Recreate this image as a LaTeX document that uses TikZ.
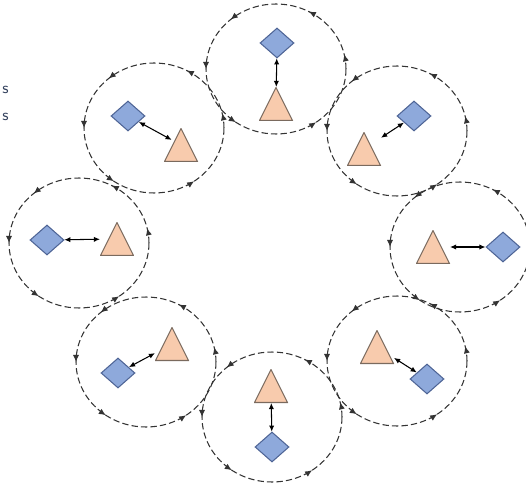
\documentclass[tikz,border=0pt]{standalone}
\usetikzlibrary{shapes.geometric,arrows.meta,decorations.markings}
\definecolor{diafill}{HTML}{8EA9DB}
\definecolor{diadraw}{HTML}{4F6596}
\definecolor{trifill}{HTML}{F8CBAD}
\definecolor{tridraw}{HTML}{7A6A5E}
\definecolor{ringdraw}{HTML}{333333}
\definecolor{textcol}{HTML}{34425E}

\begin{document}
\begin{tikzpicture}[x=0.02cm,y=0.02cm,
  ring/.style={ellipse,draw=ringdraw,line width=0.6pt,dash pattern=on 3.6pt off 1.8pt,
    minimum width=2.8cm,minimum height=2.6cm,inner sep=0,postaction={decorate},
    decoration={markings,
      mark=at position 0.035 with {\arrow{Latex[length=4pt,width=3.5pt]}},
      mark=at position 0.17 with {\arrow{Latex[length=4pt,width=3.5pt]}},
      mark=at position 0.365 with {\arrow{Latex[length=4pt,width=3.5pt]}},
      mark=at position 0.5 with {\arrow{Latex[length=4pt,width=3.5pt]}},
      mark=at position 0.65 with {\arrow{Latex[length=4pt,width=3.5pt]}},
      mark=at position 0.85 with {\arrow{Latex[length=4pt,width=3.5pt]}}}},
  dia/.style={diamond,draw=diadraw,fill=diafill,line width=0.6pt,
    minimum width=0.68cm,minimum height=0.6cm,inner sep=0},
  tri/.style={minimum width=0.68cm,minimum height=0.68cm,inner sep=0,outer sep=0,
    path picture={\draw[draw=tridraw,fill=trifill,line width=0.6pt]
      ([yshift=-0.3pt]path picture bounding box.north)
      -- ([xshift=-0.3pt,yshift=0.3pt]path picture bounding box.south east)
      -- ([xshift=0.3pt,yshift=0.3pt]path picture bounding box.south west) -- cycle;}},
  link/.style={{Latex[length=3.5pt,width=3pt]}-{Latex[length=3.5pt,width=3pt]},line width=0.6pt},
  lbl/.style={font=\fontsize{9}{10}\sffamily,text=textcol,inner sep=0,anchor=east}]

  \useasboundingbox (0,0) rectangle (526,487);

  \node[lbl] (s1) at (9,397) {s};
  \node[lbl] (s2) at (9,370) {s};

  \node[ring] (r1) at (276,418) {};
  \node[ring] (r2) at (397,356) {};
  \node[ring] (r3) at (460,240) {};
  \node[ring] (r4) at (397,126) {};
  \node[ring] (r5) at (272,70) {};
  \node[ring] (r6) at (146,125) {};
  \node[ring] (r7) at (79,244) {};
  \node[ring] (r8) at (154,359) {};

  \node[dia] (d1) at (277,444) {};
  \node[dia] (d2) at (414,371) {};
  \node[dia] (d3) at (503,240) {};
  \node[dia] (d4) at (427,108) {};
  \node[dia] (d5) at (272,40) {};
  \node[dia] (d6) at (118,114) {};
  \node[dia] (d7) at (47,247) {};
  \node[dia] (d8) at (128,371) {};

  \node[tri] (t1) at (276,383) {};
  \node[tri] (t2) at (364,338) {};
  \node[tri] (t3) at (433,240) {};
  \node[tri] (t4) at (377,140) {};
  \node[tri] (t5) at (271,101) {};
  \node[tri] (t6) at (172,143) {};
  \node[tri] (t7) at (117,248) {};
  \node[tri] (t8) at (181,342) {};

  \path[link]
   (d1) edge (t1)
   (d2) edge (t2)
   (d3) edge (t3)
   (d4) edge (t4)
   (d5) edge (t5)
   (d6) edge (t6)
   (d7) edge (t7)
   (d8) edge[shorten >=-5pt] (t8);
\end{tikzpicture}
\end{document}
